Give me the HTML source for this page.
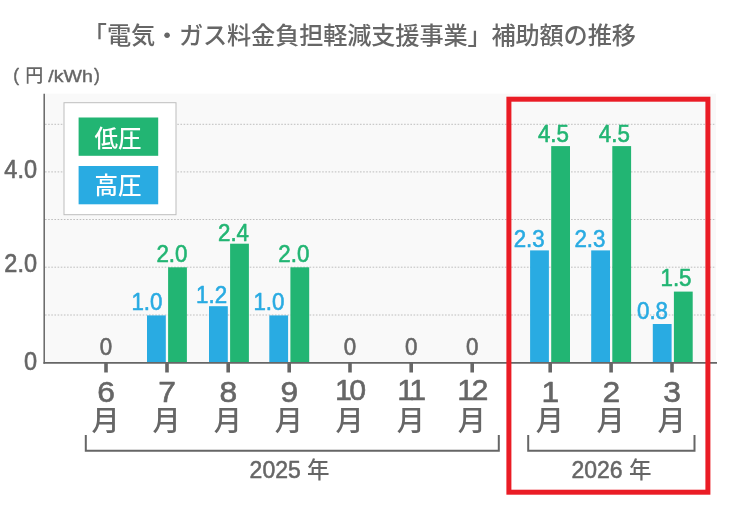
<!DOCTYPE html>
<html lang="ja">
<head>
<meta charset="utf-8">
<title>「電気・ガス料金負担軽減支援事業」補助額の推移</title>
<style>
html,body{margin:0;padding:0;background:#fff;}
body{width:730px;height:509px;overflow:hidden;}
svg{display:block;}
text{font-family:"Liberation Sans", "Noto Sans CJK JP", sans-serif;}
.g{fill:#666666;stroke:#666666;}
.gr{fill:#22B573;stroke:#22B573;}
.bl{fill:#29ABE2;stroke:#29ABE2;}
.w{fill:#fff;stroke:#fff;}
.n{stroke-width:0.6;stroke-linejoin:round;}
.j{font-weight:500;stroke-width:0;}
</style>
</head>
<body>
<svg width="730" height="509" viewBox="0 0 730 509">
<rect width="730" height="509" fill="#fff"/>

<rect x="44" y="93.7" width="672" height="269.1" fill="#f9f9f9"/>
<line x1="45" y1="315.0" x2="716" y2="315.0" stroke="#bebebe" stroke-width="1" stroke-dasharray="1.6 1.55"/>
<line x1="45" y1="267.2" x2="716" y2="267.2" stroke="#bebebe" stroke-width="1" stroke-dasharray="1.6 1.55"/>
<line x1="45" y1="219.5" x2="716" y2="219.5" stroke="#bebebe" stroke-width="1" stroke-dasharray="1.6 1.55"/>
<line x1="45" y1="171.9" x2="716" y2="171.9" stroke="#bebebe" stroke-width="1" stroke-dasharray="1.6 1.55"/>
<line x1="45" y1="124.3" x2="716" y2="124.3" stroke="#bebebe" stroke-width="1" stroke-dasharray="1.6 1.55"/>
<rect x="147.0" y="315.4" width="18.8" height="47.4" fill="#29ABE2"/>
<rect x="168.1" y="267.3" width="18.8" height="95.5" fill="#22B573"/>
<rect x="209.0" y="306.2" width="18.8" height="56.6" fill="#29ABE2"/>
<rect x="230.1" y="243.7" width="18.8" height="119.1" fill="#22B573"/>
<rect x="269.3" y="315.4" width="18.8" height="47.4" fill="#29ABE2"/>
<rect x="290.4" y="267.3" width="18.8" height="95.5" fill="#22B573"/>
<rect x="530.1" y="250.4" width="18.8" height="112.4" fill="#29ABE2"/>
<rect x="551.2" y="146.1" width="18.8" height="216.7" fill="#22B573"/>
<rect x="591.2" y="250.4" width="18.8" height="112.4" fill="#29ABE2"/>
<rect x="612.3" y="146.1" width="18.8" height="216.7" fill="#22B573"/>
<rect x="652.8" y="324.0" width="18.8" height="38.8" fill="#29ABE2"/>
<rect x="673.9" y="291.6" width="18.8" height="71.2" fill="#22B573"/>
<line x1="44.2" y1="93.8" x2="44.2" y2="363.65000000000003" stroke="#666666" stroke-width="1.5"/>
<line x1="43.45" y1="362.8" x2="717" y2="362.8" stroke="#666666" stroke-width="1.7"/>
<line x1="106" y1="362.8" x2="106" y2="372.5" stroke="#666666" stroke-width="3.6"/>
<line x1="167" y1="362.8" x2="167" y2="372.5" stroke="#666666" stroke-width="3.6"/>
<line x1="228.2" y1="362.8" x2="228.2" y2="372.5" stroke="#666666" stroke-width="3.6"/>
<line x1="289.2" y1="362.8" x2="289.2" y2="372.5" stroke="#666666" stroke-width="3.6"/>
<line x1="350" y1="362.8" x2="350" y2="372.5" stroke="#666666" stroke-width="3.6"/>
<line x1="411.2" y1="362.8" x2="411.2" y2="372.5" stroke="#666666" stroke-width="3.6"/>
<line x1="472.2" y1="362.8" x2="472.2" y2="372.5" stroke="#666666" stroke-width="3.6"/>
<line x1="550.2" y1="362.8" x2="550.2" y2="372.5" stroke="#666666" stroke-width="3.6"/>
<line x1="611.1" y1="362.8" x2="611.1" y2="372.5" stroke="#666666" stroke-width="3.6"/>
<line x1="672" y1="362.8" x2="672" y2="372.5" stroke="#666666" stroke-width="3.6"/>
<rect x="64" y="102.7" width="112" height="112" fill="#fff" stroke="#bdbdbd" stroke-width="1"/>
<rect x="78.6" y="117.5" width="79.6" height="38.3" fill="#22B573"/>
<rect x="78.6" y="166" width="79.6" height="38.3" fill="#29ABE2"/>
<text x="118" y="146.7" font-size="23.5" text-anchor="middle" class="w j">低圧</text>
<text x="118" y="193.8" font-size="23.5" text-anchor="middle" class="w j">高圧</text>
<text x="359.3" y="44.4" font-size="24.2" text-anchor="middle" class="g j" letter-spacing="-0.15">「電気・ガス料金負担軽減支援事業」補助額の推移</text>
<text x="13.2" y="81.3" font-size="17.5" class="g n" style="stroke-width:.4">(</text>
<text x="25.2" y="82.4" font-size="18" class="g j">円</text>
<text x="48.3" y="81.9" font-size="16.7" class="g n" style="stroke-width:.4" textLength="44.6" lengthAdjust="spacingAndGlyphs">/kWh</text>
<text x="94.0" y="81.3" font-size="17.5" class="g n" style="stroke-width:.4">)</text>
<text transform="translate(37.06,178.00) scale(0.93,1)" font-size="25.3" text-anchor="end" class="g n">4.0</text>
<text transform="translate(37.06,272.30) scale(0.93,1)" font-size="25.3" text-anchor="end" class="g n">2.0</text>
<text transform="translate(37.06,370.20) scale(0.93,1)" font-size="25.3" text-anchor="end" class="g n">0</text>
<text transform="translate(106.00,355.20) scale(0.95,1)" font-size="23.5" text-anchor="middle" class="g n">0</text>
<text transform="translate(350.00,355.20) scale(0.95,1)" font-size="23.5" text-anchor="middle" class="g n">0</text>
<text transform="translate(411.20,355.20) scale(0.95,1)" font-size="23.5" text-anchor="middle" class="g n">0</text>
<text transform="translate(472.20,355.20) scale(0.95,1)" font-size="23.5" text-anchor="middle" class="g n">0</text>
<text transform="translate(162.40,309.90) scale(0.95,1)" font-size="23.5" text-anchor="end" class="bl n">1.0</text>
<text transform="translate(187.40,261.60) scale(0.95,1)" font-size="23.5" text-anchor="end" class="gr n">2.0</text>
<text transform="translate(227.10,302.70) scale(0.95,1)" font-size="23.5" text-anchor="end" class="bl n">1.2</text>
<text transform="translate(249.00,241.10) scale(0.95,1)" font-size="23.5" text-anchor="end" class="gr n">2.4</text>
<text transform="translate(284.40,309.90) scale(0.95,1)" font-size="23.5" text-anchor="end" class="bl n">1.0</text>
<text transform="translate(309.30,261.60) scale(0.95,1)" font-size="23.5" text-anchor="end" class="gr n">2.0</text>
<text transform="translate(544.70,246.60) scale(0.95,1)" font-size="23.5" text-anchor="end" class="bl n">2.3</text>
<text transform="translate(568.90,142.40) scale(0.95,1)" font-size="23.5" text-anchor="end" class="gr n">4.5</text>
<text transform="translate(605.40,246.60) scale(0.95,1)" font-size="23.5" text-anchor="end" class="bl n">2.3</text>
<text transform="translate(629.80,142.40) scale(0.95,1)" font-size="23.5" text-anchor="end" class="gr n">4.5</text>
<text transform="translate(668.00,319.40) scale(0.95,1)" font-size="23.5" text-anchor="end" class="bl n">0.8</text>
<text transform="translate(691.50,285.70) scale(0.95,1)" font-size="23.5" text-anchor="end" class="gr n">1.5</text>
<text transform="translate(106.20,401.5) scale(1.05,1)" font-size="30.3" text-anchor="middle" class="g n">6</text>
<text x="105.6" y="430.8" font-size="28.2" text-anchor="middle" class="g j">月</text>
<text transform="translate(167.20,401.5) scale(1.05,1)" font-size="30.3" text-anchor="middle" class="g n">7</text>
<text x="166.6" y="430.8" font-size="28.2" text-anchor="middle" class="g j">月</text>
<text transform="translate(228.40,401.5) scale(1.05,1)" font-size="30.3" text-anchor="middle" class="g n">8</text>
<text x="227.79999999999998" y="430.8" font-size="28.2" text-anchor="middle" class="g j">月</text>
<text transform="translate(289.40,401.5) scale(1.05,1)" font-size="30.3" text-anchor="middle" class="g n">9</text>
<text x="288.8" y="430.8" font-size="28.2" text-anchor="middle" class="g j">月</text>
<text x="349.30" y="400.2" font-size="30.3" text-anchor="middle" class="g n" letter-spacing="-2.6">10</text>
<text x="349.6" y="430.8" font-size="28.2" text-anchor="middle" class="g j">月</text>
<text x="410.50" y="400.2" font-size="30.3" text-anchor="middle" class="g n" letter-spacing="-2.6">11</text>
<text x="410.8" y="430.8" font-size="28.2" text-anchor="middle" class="g j">月</text>
<text x="471.50" y="400.2" font-size="30.3" text-anchor="middle" class="g n" letter-spacing="-2.6">12</text>
<text x="471.8" y="430.8" font-size="28.2" text-anchor="middle" class="g j">月</text>
<text transform="translate(550.40,401.5) scale(1.05,1)" font-size="30.3" text-anchor="middle" class="g n">1</text>
<text x="549.8000000000001" y="430.8" font-size="28.2" text-anchor="middle" class="g j">月</text>
<text transform="translate(611.30,401.5) scale(1.05,1)" font-size="30.3" text-anchor="middle" class="g n">2</text>
<text x="610.7" y="430.8" font-size="28.2" text-anchor="middle" class="g j">月</text>
<text transform="translate(672.20,401.5) scale(1.05,1)" font-size="30.3" text-anchor="middle" class="g n">3</text>
<text x="671.6" y="430.8" font-size="28.2" text-anchor="middle" class="g j">月</text>
<polyline points="85.8,435 85.8,450.7 498.8,450.7 498.8,435" fill="none" stroke="#666666" stroke-width="2"/>
<polyline points="528.2,435 528.2,450.7 694.5,450.7 694.5,435" fill="none" stroke="#666666" stroke-width="2"/>
<text transform="translate(249.6,477.7) scale(0.935,1)" font-size="24.6" class="g n" style="stroke-width:.55">2025</text>
<text x="307.1" y="477.7" font-size="22.5" class="g j">年</text>
<text transform="translate(571.4,477.7) scale(0.935,1)" font-size="24.6" class="g n" style="stroke-width:.55">2026</text>
<text x="628.9" y="477.7" font-size="22.5" class="g j">年</text>
<rect x="508.9" y="99.2" width="199" height="393" fill="none" stroke="#EA1C25" stroke-width="5"/>
</svg>
</body>
</html>
